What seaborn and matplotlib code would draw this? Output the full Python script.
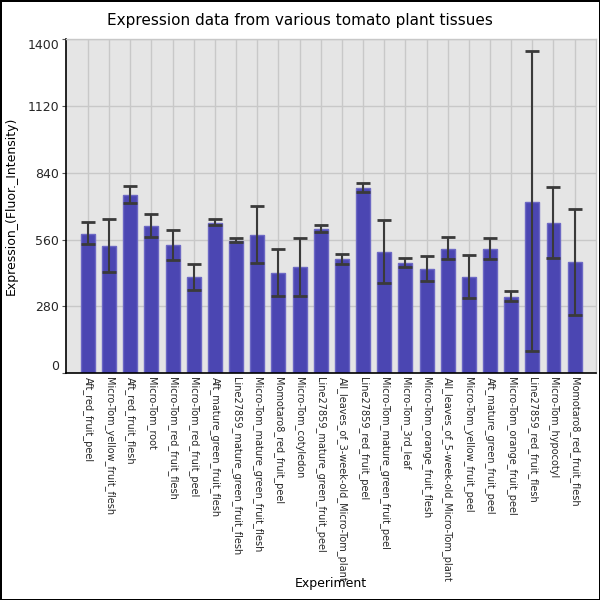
import matplotlib
matplotlib.use("Agg")
import matplotlib.pyplot as plt
import seaborn as sns
import pandas as pd
import numpy as np

categories = [
    "Aft_red_fruit_peel",
    "Micro-Tom_yellow_fruit_flesh",
    "Aft_red_fruit_flesh",
    "Micro-Tom_root",
    "Micro-Tom_red_fruit_flesh",
    "Micro-Tom_red_fruit_peel",
    "Aft_mature_green_fruit_flesh",
    "Line27859_mature_green_fruit_flesh",
    "Micro-Tom_mature_green_fruit_flesh",
    "Momotaro8_red_fruit_peel",
    "Micro-Tom_cotyledon",
    "Line27859_mature_green_fruit_peel",
    "All_leaves_of_3-week-old_Micro-Tom_plant",
    "Line27859_red_fruit_peel",
    "Micro-Tom_mature_green_fruit_peel",
    "Micro-Tom_3rd_leaf",
    "Micro-Tom_orange_fruit_flesh",
    "All_leaves_of_5-week-old_Micro-Tom_plant",
    "Micro-Tom_yellow_fruit_peel",
    "Aft_mature_green_fruit_peel",
    "Micro-Tom_orange_fruit_peel",
    "Line27859_red_fruit_flesh",
    "Micro-Tom_hypocotyl",
    "Momotaro8_red_fruit_flesh",
]
values = [582, 532, 746, 616, 536, 402, 629, 553, 578, 419, 444, 603,
          477, 776, 507, 461, 435, 519, 402, 519, 318, 717, 629, 465]
err_high = [633, 648, 785, 666, 602, 459, 647, 567, 701, 519, 568, 622,
            498, 798, 644, 482, 493, 570, 497, 567, 343, 1350, 781, 689]
err_low = [542, 423, 713, 570, 473, 349, 620, 549, 462, 323, 325, 592,
           459, 760, 377, 444, 388, 477, 316, 479, 301, 94, 483, 246]
y_ticks = [0, 280, 560, 840, 1120, 1400]

df = pd.DataFrame({"Experiment": categories, "Expression": values})

sns.set_theme(style="darkgrid")
plt.rcParams["font.family"] = ["DejaVu Sans"]

fig = plt.figure(figsize=(6, 6), dpi=100)
fig.patch.set_facecolor("white")
fig.patch.set_edgecolor("black")
fig.patch.set_linewidth(2)
ax = fig.add_axes([0.11, 0.378, 0.883, 0.5565])
ax.set_facecolor("#e5e5e5")

sns.barplot(data=df, x="Experiment", y="Expression", ax=ax, color="#4b46b2",
            saturation=1, width=0.66, edgecolor="#6c68c4", linewidth=1,
            errorbar=None, zorder=2)

vals = np.array(values)
yerr = np.vstack([vals - np.array(err_low), np.array(err_high) - vals])
_, caps, bars = ax.errorbar(np.arange(len(categories)), vals, yerr=yerr,
                            fmt="none", ecolor="#3a3a3a", elinewidth=1.5,
                            capsize=5, capthick=2, zorder=3)
for c in caps:
    c.set_color("black")

ax.set_ylim(0, 1400)
ax.set_xlim(-1.04, 24.0)
ax.set_yticks(y_ticks)
ax.set_yticklabels([str(t) for t in y_ticks], fontsize=9)
labs = ax.get_yticklabels()
labs[0].set_verticalalignment("bottom")
labs[-1].set_verticalalignment("top")
ax.tick_params(axis="y", length=3, width=0.8, color="#555555", pad=2, left=True)
ax.tick_params(axis="x", length=0, pad=3)
ax.set_xticks(range(len(categories)))
ax.set_xticklabels(categories, rotation=-90, fontsize=7, ha="center", va="top")

ax.grid(True, color="#c8c8c8", linewidth=1)
ax.set_axisbelow(True)
for s in ["left", "bottom"]:
    ax.spines[s].set_visible(True)
    ax.spines[s].set_color("black")
    ax.spines[s].set_linewidth(1.2)
for s in ["top", "right"]:
    ax.spines[s].set_visible(True)
    ax.spines[s].set_color("#c8c8c8")
    ax.spines[s].set_linewidth(1)

ax.set_ylabel("Expression_(Fluor._Intensity)", fontsize=9, color="black")
ax.yaxis.set_label_coords(-0.091, 0.5)
ax.set_xlabel("Experiment", fontsize=9, color="black")
ax.xaxis.set_label_coords(0.5, -0.61)
ax.xaxis.label.set_verticalalignment("top")

fig.text(0.5, 1 - 20 / 600, "Expression data from various tomato plant tissues",
         ha="center", va="center", fontsize=11, color="black")

fig.savefig("out.png", dpi=100, facecolor="white", edgecolor="black")
